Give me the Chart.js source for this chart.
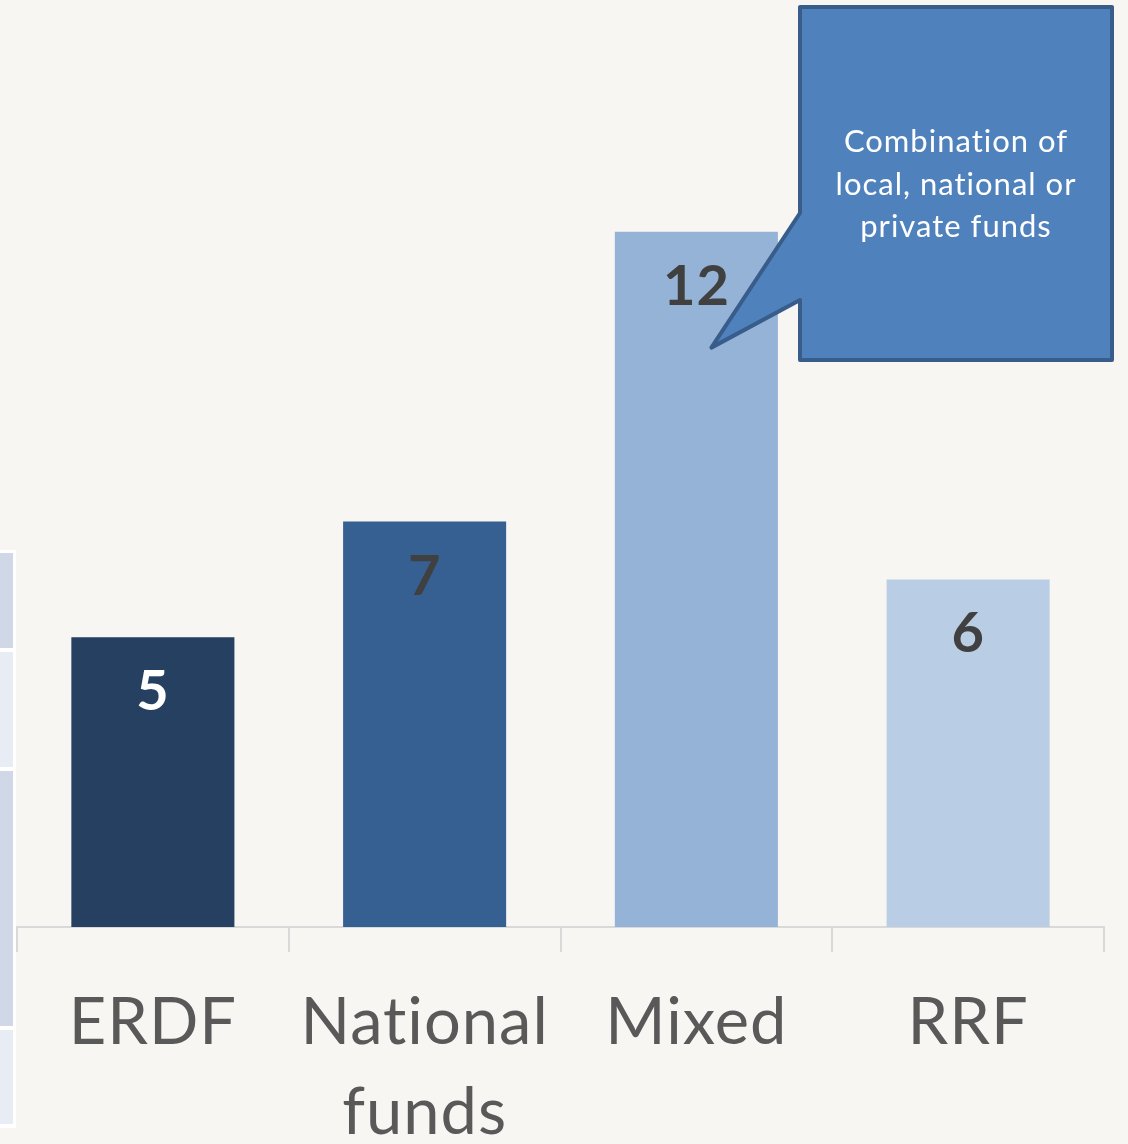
<!DOCTYPE html>
<html>
<head>
<meta charset="utf-8">
<script src="https://cdn.jsdelivr.net/npm/chart.js@4.4.1/dist/chart.umd.min.js"></script>
<style>
  html, body { margin: 0; padding: 0; background: #f7f6f2; }
  #wrap { width: 1128px; height: 1144px; }
</style>
</head>
<body>
<div id="wrap"><canvas id="myChart" width="1128" height="1144"></canvas></div>
<script>
const categories = [['ERDF'], ['National', 'funds'], ['Mixed'], ['RRF']];
const projects = [5, 7, 12, 6];
const barColors = ['#254061', '#366092', '#95b3d7', '#b9cde5'];
const labelColors = ['#ffffff', '#404040', '#404040', '#404040'];
const calloutLines = ['Combination of', 'local, national or', 'private funds'];

const fontFamily = 'Lato, "Open Sans", sans-serif';

// light table cells peeking in at the left edge (+ a bit of letter spacing, no ligatures)
const sideCells = {
    id: 'sideCells',
    beforeDraw(chart) {
        const c = chart.ctx;
        c.letterSpacing = '1px';
        c.save();
        c.fillStyle = '#ffffff';
        c.fillRect(0, 550, 16, 578);
        const cells = [[553, 648, '#d0d8e8'], [652, 767, '#e7ecf5'], [771, 1026, '#d0d8e8'], [1030, 1124, '#e7ecf5']];
        cells.forEach(function (cell) {
            c.fillStyle = cell[2];
            c.fillRect(0, cell[0], 13, cell[1] - cell[0]);
        });
        c.restore();
    }
};

// value labels inside the top of each bar
const barLabels = {
    id: 'barLabels',
    afterDatasetsDraw(chart) {
        const c = chart.ctx;
        const meta = chart.getDatasetMeta(0);
        c.save();
        c.font = 'bold 56px ' + fontFamily;
        c.textAlign = 'center';
        c.textBaseline = 'middle';
        meta.data.forEach(function (bar, i) {
            c.fillStyle = labelColors[i];
            c.fillText(String(projects[i]), bar.x, bar.y + 55);
        });
        c.restore();
    }
};

// speech-bubble callout pointing at the Mixed bar
const callout = {
    id: 'callout',
    afterDraw(chart) {
        const c = chart.ctx;
        const tipX = chart.scales.x.getPixelForValue(2) + 15;
        const tipY = chart.scales.y.getPixelForValue(10);
        const left = 800, right = 1112, top = 7, bottom = 360;
        c.save();
        c.beginPath();
        c.moveTo(left, top);
        c.lineTo(right, top);
        c.lineTo(right, bottom);
        c.lineTo(left, bottom);
        c.lineTo(left, 300);
        c.lineTo(tipX, tipY);
        c.lineTo(left, 213);
        c.closePath();
        c.fillStyle = '#4f81bd';
        c.fill();
        c.lineWidth = 4;
        c.lineJoin = 'round';
        c.strokeStyle = '#385d8a';
        c.stroke();
        c.fillStyle = '#ffffff';
        c.font = '31px ' + fontFamily;
        c.textAlign = 'center';
        c.textBaseline = 'middle';
        calloutLines.forEach(function (line, i) {
            c.fillText(line, (left + right) / 2, 142 + i * 42.5);
        });
        c.restore();
    }
};

const ctx = document.getElementById('myChart').getContext('2d');
const myChart = new Chart(ctx, {
    type: 'bar',
    data: {
        labels: categories,
        datasets: [{
            label: 'Projects',
            data: projects,
            backgroundColor: barColors,
            borderWidth: 0,
            categoryPercentage: 1,
            barPercentage: 0.6
        }]
    },
    options: {
        responsive: false,
        maintainAspectRatio: false,
        animation: false,
        layout: {
            padding: { left: 17, right: 24, top: 0, bottom: 0 }
        },
        plugins: {
            legend: { display: false },
            tooltip: { enabled: false }
        },
        scales: {
            y: {
                display: false,
                min: 0,
                max: 16
            },
            x: {
                afterFit: function (axis) { axis.height = 217; },
                border: { display: true, color: '#d9d9d9', width: 2 },
                grid: {
                    offset: true,
                    drawOnChartArea: false,
                    drawTicks: true,
                    tickLength: 25,
                    color: '#d9d9d9',
                    lineWidth: 2
                },
                ticks: {
                    color: '#595959',
                    padding: 26,
                    maxRotation: 0,
                    font: { family: fontFamily, size: 65, lineHeight: 1.38 }
                }
            }
        }
    },
    plugins: [sideCells, barLabels, callout]
});
</script>
</body>
</html>
